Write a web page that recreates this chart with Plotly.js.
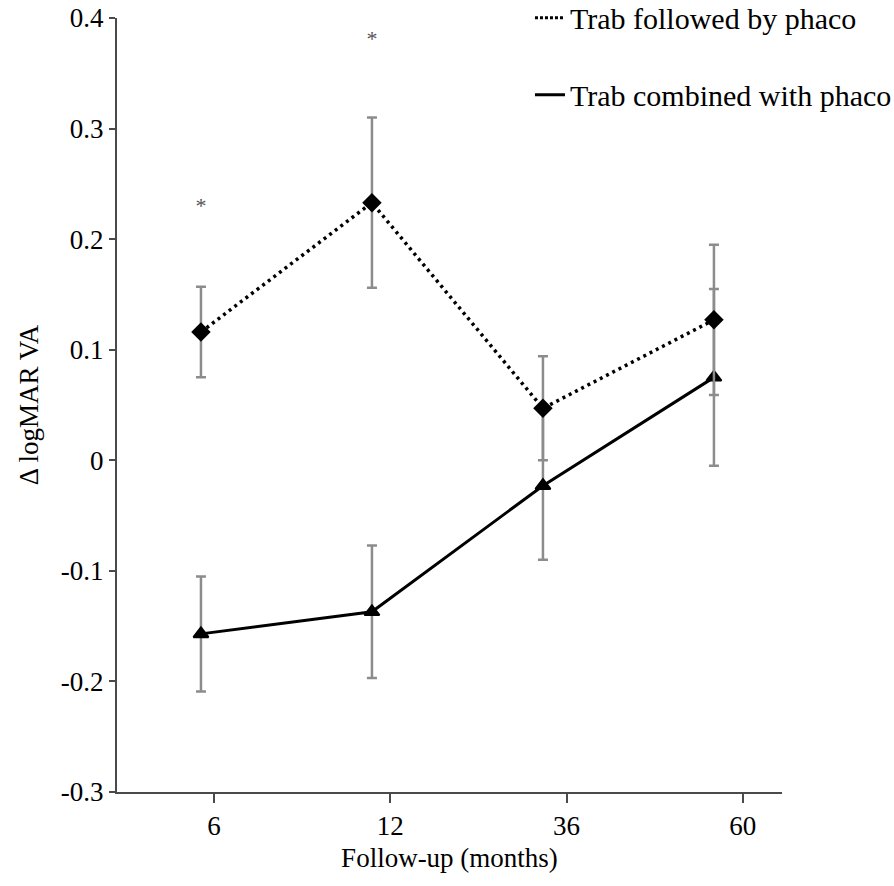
<!DOCTYPE html>
<html>
<head>
<meta charset="utf-8">
<script src="https://cdn.plot.ly/plotly-3.0.1.min.js"></script>
<style>html,body{margin:0;padding:0;background:#fff;}#chart{width:894px;height:886px;}</style>
</head>
<body>
<div id="chart"></div>
<script>
// Follow-up categories (months)
const months = ['6', '12', '36', '60'];
// Trab followed by phaco (dotted)
const followedMean = [0.116, 0.233, 0.047, 0.127];
const followedErr = [0.041, 0.077, 0.047, 0.068];
// Trab combined with phaco (solid)
const combinedMean = [-0.157, -0.137, -0.023, 0.075];
const combinedErr = [0.052, 0.060, 0.067, 0.080];
// Significance markers
const sigMonths = ['6', '12'];
const sigY = [0.229, 0.380];
const sigText = ['*', '*'];
// Axis ticks
const yTicks = [-0.3, -0.2, -0.1, 0, 0.1, 0.2, 0.3, 0.4];
const yTickText = ['-0.3', '-0.2', '-0.1', '0', '0.1', '0.2', '0.3', '0.4'];
const seriesNames = ['Trab followed by phaco', 'Trab combined with phaco'];

const serif = 'Liberation Serif, Times New Roman, serif';
const errStyle = (arr) => ({type: 'data', array: arr, visible: true, color: '#8c8c8c', thickness: 2.5, width: 5});

const traces = [
  {
    x: months, y: combinedMean, type: 'scatter', mode: 'lines+markers',
    line: {color: '#000', width: 3},
    marker: {symbol: 'triangle-up', size: 13, color: '#000', line: {color: '#000', width: 2}},
    error_y: errStyle(combinedErr),
    showlegend: false, hoverinfo: 'skip'
  },
  {
    x: months, y: followedMean, type: 'scatter', mode: 'lines+markers',
    line: {color: '#000', width: 3.5, dash: '3px,4px'},
    marker: {symbol: 'diamond', size: 15, color: '#000'},
    error_y: errStyle(followedErr),
    showlegend: false, hoverinfo: 'skip'
  },
  {
    x: sigMonths, y: sigY, type: 'scatter', mode: 'text', text: sigText,
    textposition: 'middle center',
    textfont: {family: serif, size: 22, color: '#555'},
    showlegend: false, hoverinfo: 'skip'
  },
  // legend entries
  {
    x: [null], y: [null], type: 'scatter', mode: 'lines', name: seriesNames[0],
    line: {color: '#000', width: 3, dash: '3px,2px'}, legendgroup: 'a', showlegend: true
  },
  {
    x: [null], y: [null], type: 'scatter', mode: 'lines', name: seriesNames[1],
    line: {color: '#000', width: 3}, legendgroup: 'b', showlegend: true
  },
  // tick axis carrier
  {
    x: months, y: months.map(() => null), type: 'scatter', mode: 'markers', xaxis: 'x2',
    showlegend: false, hoverinfo: 'skip'
  }
];

const layout = {
  width: 894, height: 886,
  margin: {l: 117, r: 112, t: 18, b: 94, autoexpand: false},
  paper_bgcolor: '#fff', plot_bgcolor: '#fff',
  font: {family: serif, size: 26, color: '#000'},
  showlegend: true,
  legend: {
    x: 0.621, y: 1.034, xanchor: 'left', yanchor: 'top',
    font: {family: serif, size: 30, color: '#000'},
    tracegroupgap: 35, bgcolor: 'rgba(0,0,0,0)'
  },
  xaxis: {
    type: 'category', range: [-0.491, 3.398],
    showline: true, linecolor: '#4a4a4a', linewidth: 2,
    showticklabels: false, ticks: '', showgrid: false, zeroline: false, fixedrange: true
  },
  xaxis2: {
    type: 'category', overlaying: 'x', anchor: 'y', side: 'bottom',
    range: [-0.55, 3.222],
    showline: false, ticks: 'outside', ticklen: 10, tickwidth: 2, tickcolor: '#4a4a4a',
    tickfont: {family: serif, size: 27, color: '#000'},
    showgrid: false, zeroline: false,
    title: {text: 'Follow-up (months)', font: {family: serif, size: 27, color: '#000'}, standoff: 7}
  },
  yaxis: {
    range: [-0.3, 0.4], tickvals: yTicks, ticktext: yTickText,
    showline: true, linecolor: '#4a4a4a', linewidth: 2,
    ticks: 'outside', ticklen: 6, tickwidth: 2, tickcolor: '#4a4a4a',
    tickfont: {family: serif, size: 27, color: '#000'},
    showgrid: false, zeroline: false,
    title: {text: 'Δ logMAR VA', font: {family: serif, size: 27, color: '#000'}, standoff: 14}
  }
};

Plotly.newPlot('chart', traces, layout, {displayModeBar: false, staticPlot: true});
</script>
</body>
</html>
